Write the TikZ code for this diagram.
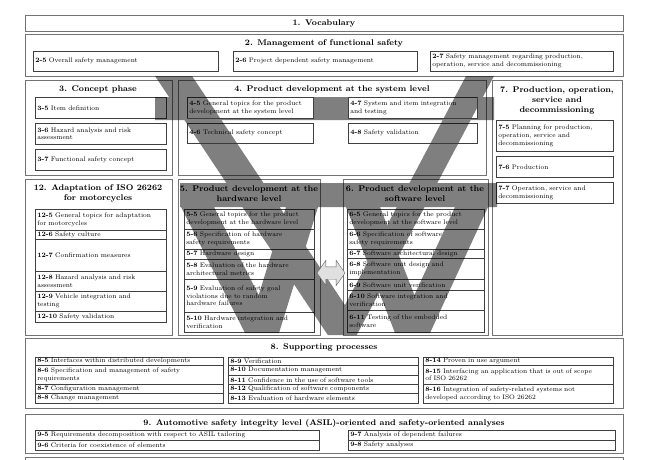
\documentclass[tikz,border=0pt]{standalone}
\usetikzlibrary{shapes.arrows}
\begin{document}
\begin{tikzpicture}[x=1pt,y=-1pt,
  part/.style={draw=black!55, line width=0.9pt, fill=white, anchor=north west, inner sep=0pt},
  sub/.style={draw=black!75, line width=0.5pt, fill=white, anchor=north west, inner xsep=2pt, inner ysep=0.2pt, align=left, font=\fontsize{6.6}{7.9}\selectfont},
  ttl/.style={font=\fontsize{8.3}{10}\selectfont\bfseries, align=center, inner sep=0pt},
  vband/.style={fill=black, fill opacity=0.5},
  ]
\newcommand\bx[6]{%
  \pgfmathsetmacro\bxw{#4-#2}\pgfmathsetmacro\bxh{#5-#3}\pgfmathsetmacro\bxt{#4-#2-4}%
  \node[sub, minimum width=\bxw pt, minimum height=\bxh pt, text width=\bxt pt] (#1) at (#2,#3) {#6};}
\newcommand\px[5]{%
  \pgfmathsetmacro\bxw{#4-#2}\pgfmathsetmacro\bxh{#5-#3}%
  \node[part, minimum width=\bxw pt, minimum height=\bxh pt] (#1) at (#2,#3) {};}
\path[use as bounding box] (0,0) rectangle (650,459);
\clip (0,0) rectangle (650,459);
% part boxes
\px{p1}{25}{15}{623}{31}
\px{p2}{25}{34}{623}{76}
\px{p3}{25}{80}{172}{175}
\px{p4}{178}{80}{486}{175}
\px{p7}{492}{80}{622}{335}
\px{p12}{25}{179}{172}{335}
\px{p5}{178}{179}{320}{335}
\px{p6}{343}{179}{488}{335}
\px{p8}{25}{338}{623}{408}
\px{p9}{25}{414}{623}{453}
\px{p10}{25}{457}{623}{480}
% titles
\node[ttl] (t1) at (324,23) {1. Vocabulary};
\node[ttl] (t2) at (324,43) {2. Management of functional safety};
\node[ttl] (t3) at (98,89) {3. Concept phase};
\node[ttl] (t4) at (332,89) {4. Product development at the system level};
\node[ttl] (t7) at (557,100) {7. Production, operation,\\ service and\\ decommissioning};
\node[ttl] (t12) at (98,193.5) {12. Adaptation of ISO 26262\\ for motorcycles};
\node[ttl] (t5) at (249,193.5) {5. Product development at the\\ hardware level};
\node[ttl] (t6) at (415,193.5) {6. Product development at the\\ software level};
\node[ttl] (t8) at (324,347) {8. Supporting processes};
\node[ttl] (t9) at (324,423) {9. Automotive safety integrity level (ASIL)-oriented and safety-oriented analyses};
% part 2
\bx{b25}{33}{51}{218}{71}{\textbf{2-5} Overall safety management}
\bx{b26}{233}{51}{417}{71}{\textbf{2-6} Project dependent safety management}
\bx{b27}{430}{51}{613}{71}{\textbf{2-7} Safety management regarding production,\\ operation, service and decommissioning}
% part 3
\bx{b35}{35}{97}{166}{118}{\textbf{3-5} Item definition}
\bx{b36}{35}{123}{166}{144}{\textbf{3-6} Hazard analysis and risk\\ assessment}
\bx{b37}{35}{149}{166}{170}{\textbf{3-7} Functional safety concept}
% part 7
\bx{b75}{496}{120}{613}{151}{\textbf{7-5} Planning for production,\\ operation, service and\\ decommissioning}
\bx{b76}{496}{156}{613}{177}{\textbf{7-6} Production}
\bx{b77}{496}{182}{613}{203}{\textbf{7-7} Operation, service and\\ decommissioning}
% part 12
\bx{b125}{35}{209}{166}{230}{\textbf{12-5} General topics for adaptation\\ for motorcycles}
\bx{b126}{35}{230}{166}{239}{\textbf{12-6} Safety culture}
\bx{b127}{35}{239}{166}{271}{\textbf{12-7} Confirmation measures}
\bx{b128}{35}{271}{166}{291}{\textbf{12-8} Hazard analysis and risk\\ assessment}
\bx{b129}{35}{291}{166}{311}{\textbf{12-9} Vehicle integration and\\ testing}
\bx{b1210}{35}{311}{166}{322}{\textbf{12-10} Safety validation}
% part 5
\bx{b55}{184}{209}{314}{229}{\textbf{5-5} General topics for the product\\ development at the hardware level}
\bx{b56}{184}{229}{314}{249}{\textbf{5-6} Specification of hardware\\ safety requirements}
\bx{b57}{184}{249}{314}{259}{\textbf{5-7} Hardware design}
\bx{b58}{184}{259}{314}{279}{\textbf{5-8} Evaluation of the hardware\\ architectural metrics}
\bx{b59}{184}{279}{314}{312}{\textbf{5-9} Evaluation of safety goal\\ violations due to random\\ hardware failures}
\bx{b510}{184}{312}{314}{332}{\textbf{5-10} Hardware integration and\\ verification}
% part 6
\bx{b65}{347}{209}{484}{229}{\textbf{6-5} General topics for the product\\ development at the software level}
\bx{b66}{347}{229}{484}{249}{\textbf{6-6} Specification of software\\ safety requirements}
\bx{b67}{347}{249}{484}{258}{\textbf{6-7} Software architectural design}
\bx{b68}{347}{258}{484}{279}{\textbf{6-8} Software unit design and\\ implementation}
\bx{b69}{347}{279}{484}{290}{\textbf{6-9} Software unit verification}
\bx{b610}{347}{290}{484}{310}{\textbf{6-10} Software integration and\\ verification}
\bx{b611}{347}{310}{484}{332}{\textbf{6-11} Testing of the embedded\\ software}
% part 8
\bx{b85}{35}{357}{223}{365}{\textbf{8-5} Interfaces within distributed developments}
\bx{b86}{35}{365}{223}{384}{\textbf{8-6} Specification and management of safety\\ requirements}
\bx{b87}{35}{384}{223}{393}{\textbf{8-7} Configuration management}
\bx{b88}{35}{393}{223}{403}{\textbf{8-8} Change management}
\bx{b89}{228}{357}{418}{365}{\textbf{8-9} Verification}
\bx{b810}{228}{365}{418}{375}{\textbf{8-10} Documentation management}
\bx{b811}{228}{375}{418}{384}{\textbf{8-11} Confidence in the use of software tools}
\bx{b812}{228}{384}{418}{393}{\textbf{8-12} Qualification of software components}
\bx{b813}{228}{393}{418}{403}{\textbf{8-13} Evaluation of hardware elements}
\bx{b814}{423}{357}{613}{365}{\textbf{8-14} Proven in use argument}
\bx{b815}{423}{365}{613}{384}{\textbf{8-15} Interfacing an application that is out of scope\\ of ISO 26262}
\bx{b816}{423}{384}{613}{403}{\textbf{8-16} Integration of safety-related systems not\\ developed according to ISO 26262}
% part 9
\bx{b95}{35}{430}{319}{440}{\textbf{9-5} Requirements decomposition with respect to ASIL tailoring}
\bx{b96}{35}{440}{319}{450}{\textbf{9-6} Criteria for coexistence of elements}
\bx{b97}{348}{430}{615}{440}{\textbf{9-7} Analysis of dependent failures}
\bx{b98}{348}{440}{615}{450}{\textbf{9-8} Safety analyses}
% grey V shapes
\fill[vband]
  (155,97) -- (494,97) -- (494,120) -- (155,120) -- cycle
  (155,76) -- (192,76) -- (345,305) -- (466,76) -- (494,76) -- (356.7,335) -- (327.8,335) -- cycle
  (180,183) -- (497,183) -- (497,207) -- (180,207) -- cycle
  (181,207) -- (214,207) -- (258.7,295) -- (286,207) -- (318,207) -- (279,333) -- (245,333) -- cycle
  (346,207) -- (380,207) -- (414.4,295) -- (455,207) -- (488,207) -- (430,333) -- (395,333) -- cycle;
% part 4 boxes over the bar
\bx{b45}{187}{97}{313}{118}{\textbf{4-5} General topics for the product\\ development at the system level}
\bx{b46}{187}{123}{313}{143}{\textbf{4-6} Technical safety concept}
\bx{b47}{348}{97}{477}{118}{\textbf{4-7} System and item integration\\ and testing}
\bx{b48}{348}{123}{477}{143}{\textbf{4-8} Safety validation}
\begin{scope}
  \clip (187,97) rectangle (313,118) (187,123) rectangle (313,143)
        (348,97) rectangle (477,118) (348,123) rectangle (477,143);
  \fill[vband] (155,76) -- (192,76) -- (345,305) -- (466,76) -- (494,76) -- (356.7,335) -- (327.8,335) -- cycle;
\end{scope}
% double arrow between hardware and software
\node[double arrow, draw=black!60, fill=black!12, minimum height=28pt, inner sep=6pt,
      double arrow head extend=6.5pt, double arrow tip angle=110] (arr) at (331,273) {};
\end{tikzpicture}
\end{document}
